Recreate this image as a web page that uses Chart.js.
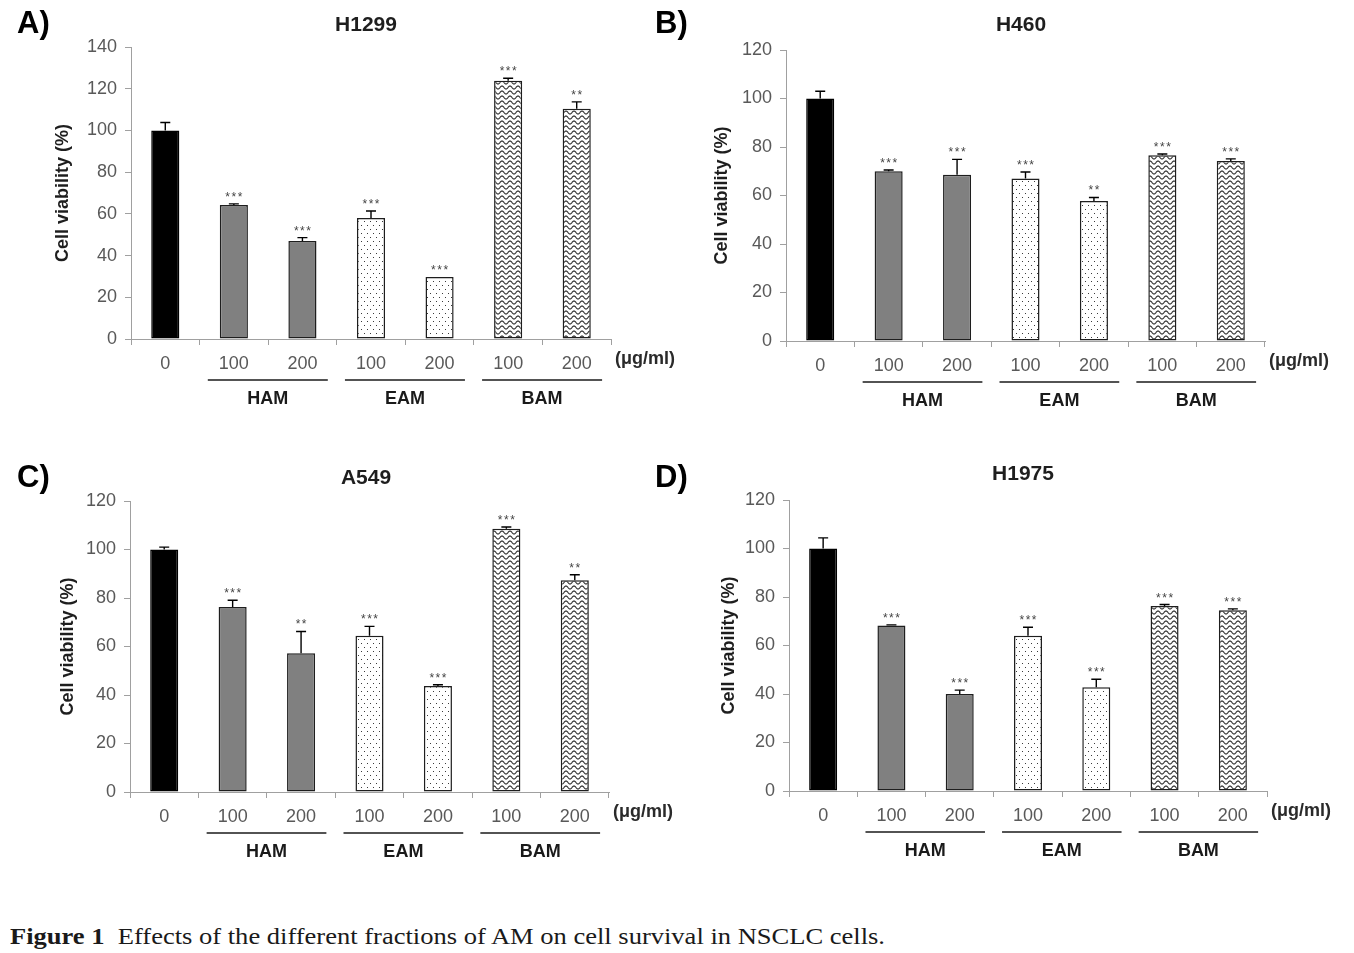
<!DOCTYPE html>
<html>
<head>
<meta charset="utf-8">
<script src="https://cdn.jsdelivr.net/npm/chart.js@4.4.1/dist/chart.umd.min.js"></script>
<style>
html,body{margin:0;padding:0;background:#fff;}
body{width:1354px;height:953px;overflow:hidden;position:relative;}
canvas{position:absolute;}
#caption{position:absolute;left:10px;top:921px;font-family:"Liberation Serif","DejaVu Serif",serif;font-size:24px;color:#1a1a1a;white-space:nowrap;line-height:30px;transform-origin:0 50%;display:inline-block;}
#caption b{font-weight:bold;}
</style>
</head>
<body>
<canvas id="cA" width="680" height="450" style="left:0px;top:0px"></canvas>
<canvas id="cB" width="714" height="450" style="left:640px;top:0px"></canvas>
<canvas id="cC" width="680" height="440" style="left:0px;top:450px"></canvas>
<canvas id="cD" width="714" height="440" style="left:640px;top:450px"></canvas>
<div id="caption"><b>Figure 1</b>&nbsp; Effects of the different fractions of AM on cell survival in NSCLC cells.</div>
<script>
// ---------- data ----------
const doseLabels = ['0', '100', '200', '100', '200', '100', '200'];
const fractionGroups = ['HAM', 'EAM', 'BAM'];
const unitLabel = '(\u03bcg/ml)';
const yAxisTitle = 'Cell viability (%)';

const h1299Values = [100, 64.3, 47.0, 58.0, 29.7, 123.8, 110.4];
const h1299Errors = [3.8, 0.5, 1.6, 3.4, 0, 1.2, 3.3];
const h1299Sig    = ['', '***', '***', '***', '***', '***', '**'];

const h460Values = [100, 70.0, 68.6, 67.0, 57.7, 76.6, 74.2];
const h460Errors = [3.0, 0.5, 6.3, 2.7, 1.5, 0.5, 0.9];
const h460Sig    = ['', '***', '***', '***', '**', '***', '***'];

const a549Values = [100, 76.3, 57.2, 64.4, 43.7, 108.6, 87.3];
const a549Errors = [1.0, 2.8, 9.0, 3.9, 0.5, 0.7, 2.3];
const a549Sig    = ['', '***', '**', '***', '***', '***', '**'];

const h1975Values = [100, 68.2, 40.0, 64.0, 42.8, 76.3, 74.5];
const h1975Errors = [4.4, 0.3, 1.6, 3.5, 3.3, 0.6, 0.6];
const h1975Sig    = ['', '***', '***', '***', '***', '***', '***'];

// ---------- fills ----------
function dotPattern() {
  const c = document.createElement('canvas'); c.width = 6; c.height = 8;
  const g = c.getContext('2d');
  g.fillStyle = '#fff'; g.fillRect(0, 0, 6, 8);
  g.fillStyle = '#3a3a3a';
  g.fillRect(1, 1, 1, 1); g.fillRect(4, 5, 1, 1);
  return g.createPattern(c, 'repeat');
}
function wavePattern() {
  const W = 8, H = 5;
  const c = document.createElement('canvas'); c.width = W; c.height = H;
  const g = c.getContext('2d');
  g.fillStyle = '#fff'; g.fillRect(0, 0, W, H);
  g.strokeStyle = '#2a2a2a'; g.lineWidth = 1.1;
  for (const off of [-H, 0, H]) {
    g.beginPath();
    for (let x = -1; x <= W + 1; x += 0.25) {
      const y = off + 2.5 + 1.5 * Math.sin(2 * Math.PI * x / W);
      if (x === -1) g.moveTo(x, y); else g.lineTo(x, y);
    }
    g.stroke();
  }
  return g.createPattern(c, 'repeat');
}
const DOTS = dotPattern();
const WAVES = wavePattern();
const barFills = ['#000000', '#808080', '#808080', DOTS, DOTS, WAVES, WAVES];
const barBorders = ['#000000', '#1e1e1e', '#1e1e1e', '#1e1e1e', '#1e1e1e', '#1e1e1e', '#1e1e1e'];

// ---------- panel layout ----------
const panels = [
  { id: 'cA', letter: 'A)', title: 'H1299', values: h1299Values, errors: h1299Errors, sig: h1299Sig, yMax: 140,
    box: { left: 0, top: 0, w: 680, h: 450 }, area: { l: 131, r: 611, t: 47, b: 339 },
    titleXY: [366, 25], letterXY: [17, 24], yTitleX: 63 },
  { id: 'cB', letter: 'B)', title: 'H460', values: h460Values, errors: h460Errors, sig: h460Sig, yMax: 120,
    box: { left: 640, top: 0, w: 714, h: 450 }, area: { l: 786, r: 1265, t: 50, b: 341 },
    titleXY: [1021, 25], letterXY: [655, 24], yTitleX: 722 },
  { id: 'cC', letter: 'C)', title: 'A549', values: a549Values, errors: a549Errors, sig: a549Sig, yMax: 120,
    box: { left: 0, top: 450, w: 680, h: 440 }, area: { l: 130, r: 609, t: 501, b: 792 },
    titleXY: [366, 478], letterXY: [17, 478], yTitleX: 68 },
  { id: 'cD', letter: 'D)', title: 'H1975', values: h1975Values, errors: h1975Errors, sig: h1975Sig, yMax: 120,
    box: { left: 640, top: 450, w: 714, h: 440 }, area: { l: 789, r: 1267, t: 500, b: 791 },
    titleXY: [1023, 474], letterXY: [655, 478], yTitleX: 729 }
];

const SANS = '"Liberation Sans", Arial, sans-serif';

const annot = {
  id: 'annot',
  afterDatasetsDraw(chart, args, opts) {
    const p = opts.panel;
    const ctx = chart.ctx, xs = chart.scales.x, ys = chart.scales.y, a = chart.chartArea;
    const bx = p.box.left, by = p.box.top;
    const catW = (a.right - a.left) / doseLabels.length;
    ctx.save();
    // error bars + significance
    p.values.forEach((v, i) => {
      const x = xs.getPixelForValue(i);
      const yTop = ys.getPixelForValue(v);
      const yErr = ys.getPixelForValue(v + p.errors[i]);
      if (p.errors[i] > 0.15) {
        ctx.strokeStyle = '#000'; ctx.lineWidth = 1.4;
        ctx.beginPath();
        ctx.moveTo(x, yTop); ctx.lineTo(x, yErr);
        ctx.moveTo(x - 5, yErr); ctx.lineTo(x + 5, yErr);
        ctx.stroke();
      }
      if (p.sig[i]) {
        ctx.font = '12px ' + SANS;
        ctx.letterSpacing = '1.5px';
        ctx.fillStyle = '#444';
        ctx.textAlign = 'center'; ctx.textBaseline = 'alphabetic';
        ctx.fillText(p.sig[i], x + 0.75, yErr - 3);
        ctx.letterSpacing = '0px';
      }
    });
    // group underlines + labels
    ctx.strokeStyle = '#1a1a1a'; ctx.lineWidth = 1.5;
    ctx.fillStyle = '#1a1a1a';
    ctx.font = 'bold 18px ' + SANS;
    ctx.textAlign = 'center'; ctx.textBaseline = 'middle';
    fractionGroups.forEach((g, k) => {
      const x1 = xs.getPixelForValue(1 + 2 * k) - 0.38 * catW;
      const x2 = xs.getPixelForValue(2 + 2 * k) + 0.37 * catW;
      ctx.beginPath(); ctx.moveTo(x1, a.bottom + 41); ctx.lineTo(x2, a.bottom + 41); ctx.stroke();
      ctx.fillText(g, (x1 + x2) / 2, a.bottom + 60);
    });
    // unit label
    ctx.textAlign = 'left';
    ctx.fillStyle = '#2a2a2a';
    ctx.fillText(unitLabel, a.right + 4, a.bottom + 20);
    // title
    ctx.font = 'bold 21px ' + SANS;
    ctx.fillStyle = '#1e1e1e';
    ctx.textAlign = 'center';
    ctx.fillText(p.title, p.titleXY[0] - bx, p.titleXY[1] - by);
    // panel letter
    ctx.font = 'bold 31px ' + SANS;
    ctx.fillStyle = '#000';
    ctx.textAlign = 'left';
    ctx.fillText(p.letter, p.letterXY[0] - bx, p.letterXY[1] - by);
    // y title
    ctx.translate(p.yTitleX - bx, (a.top + a.bottom) / 2);
    ctx.rotate(-Math.PI / 2);
    ctx.font = 'bold 18px ' + SANS;
    ctx.fillStyle = '#1e1e1e';
    ctx.textAlign = 'center';
    ctx.fillText(yAxisTitle, 0, 0);
    ctx.restore();
  }
};

panels.forEach(p => {
  const box = p.box, area = p.area;
  new Chart(document.getElementById(p.id), {
    type: 'bar',
    data: {
      labels: doseLabels,
      datasets: [{
        data: p.values,
        backgroundColor: barFills,
        borderColor: barBorders,
        borderWidth: 1.5,
        borderSkipped: false,
        barPercentage: 0.41,
        categoryPercentage: 1.0
      }]
    },
    options: {
      responsive: false,
      animation: false,
      devicePixelRatio: 1,
      layout: { padding: { left: 0, top: area.t - box.top, right: box.left + box.w - area.r, bottom: 0 } },
      plugins: { legend: { display: false }, tooltip: { enabled: false }, annot: { panel: p } },
      scales: {
        x: {
          type: 'category',
          grid: { offset: true, drawOnChartArea: false, drawTicks: true, tickLength: 6, color: '#a0a0a0' },
          border: { color: '#a0a0a0', width: 1 },
          ticks: { color: '#595959', font: { family: SANS, size: 18 }, padding: 8, maxRotation: 0, autoSkip: false },
          afterFit(s) { s.height = box.top + box.h - area.b; }
        },
        y: {
          min: 0, max: p.yMax,
          grid: { drawOnChartArea: false, drawTicks: true, tickLength: 6, color: '#a0a0a0' },
          border: { color: '#a0a0a0', width: 1 },
          ticks: { stepSize: 20, color: '#595959', font: { family: SANS, size: 18 }, padding: 8 },
          afterFit(s) { s.width = area.l - box.left; }
        }
      }
    },
    plugins: [annot]
  });
});

// caption width fit
const cap = document.getElementById('caption');
const cw = cap.getBoundingClientRect().width;
cap.style.transform = 'scaleX(' + (875 / cw).toFixed(4) + ')';
</script>
</body>
</html>
